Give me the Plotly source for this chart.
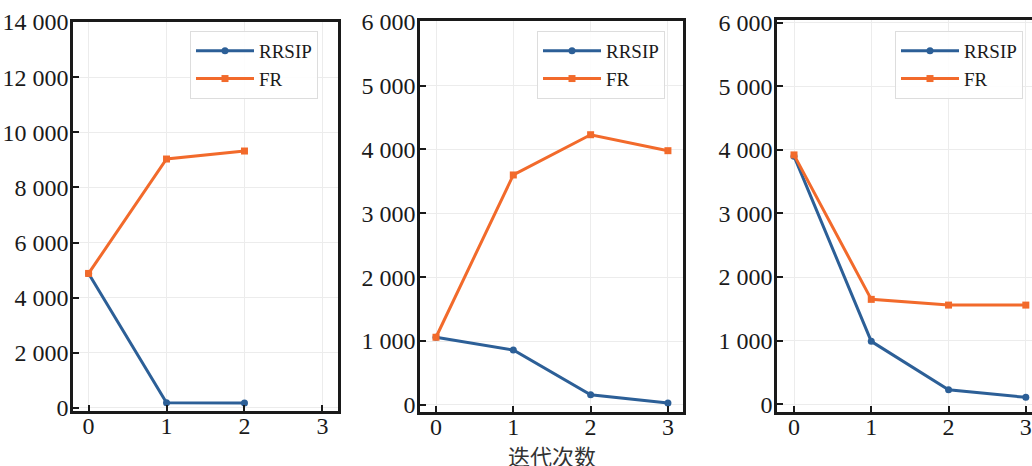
import plotly.graph_objects as go

iterations = [0, 1, 2, 3]

p1_rrsip = [4880, 190, 180]
p1_fr = [4880, 9030, 9320]

p2_rrsip = [1060, 860, 160, 30]
p2_fr = [1060, 3600, 4230, 3980]

p3_rrsip = [3900, 990, 230, 110]
p3_fr = [3920, 1650, 1560, 1560]

y_ticks_1 = [0, 2000, 4000, 6000, 8000, 10000, 12000, 14000]
y_ticks_23 = [0, 1000, 2000, 3000, 4000, 5000, 6000]

BLUE = "#2c5f97"
ORANGE = "#f26a2b"
INK = "#1a1a1a"
W, H = 1032, 466

fig = go.Figure()

panels = [
    (p1_rrsip, p1_fr, "x", "y", "legend", "p1"),
    (p2_rrsip, p2_fr, "x2", "y2", "legend2", "p2"),
    (p3_rrsip, p3_fr, "x3", "y3", "legend3", "p3"),
]
for rr, fr, xa, ya, lg, gid in panels:
    fig.add_trace(go.Scatter(
        x=iterations[:len(rr)], y=rr, name="RRSIP", mode="lines+markers",
        line=dict(color=BLUE, width=3), marker=dict(symbol="circle", size=7, color=BLUE),
        xaxis=xa, yaxis=ya, legend=lg, legendgroup=gid + "a"))
    fig.add_trace(go.Scatter(
        x=iterations[:len(fr)], y=fr, name="FR", mode="lines+markers",
        line=dict(color=ORANGE, width=3), marker=dict(symbol="square", size=7, color=ORANGE),
        xaxis=xa, yaxis=ya, legend=lg, legendgroup=gid + "b"))

def px_x(p):
    return p / W

def px_y(p):
    return 1 - p / H

font = dict(family="Liberation Serif, Times New Roman, serif", size=24, color=INK)

def xaxis(dom, rng, anchor):
    return dict(domain=[px_x(dom[0]), px_x(dom[1])], range=rng, anchor=anchor,
                tickvals=iterations, ticks="inside", ticklen=6, tickwidth=2, tickcolor=INK,
                showline=True, linecolor=INK, linewidth=2.5, mirror=True,
                showgrid=True, gridcolor="#ececec", gridwidth=1, zeroline=False,
                tickfont=font, fixedrange=True, automargin=False, ticklabelstandoff=-9)

def yaxis(dom, rng, anchor, tv, mirror=True):
    return dict(domain=[px_y(dom[1]), px_y(dom[0])], range=rng, anchor=anchor,
                tickvals=tv, ticks="inside", ticklen=6, tickwidth=2, tickcolor=INK,
                showline=True, linecolor=INK, linewidth=2.5, mirror=mirror,
                showgrid=True, gridcolor="#ececec", gridwidth=1, zeroline=False,
                tickformat=",d", separatethousands=True, tickfont=font, fixedrange=True,
                automargin=False, ticklabelstandoff=-3)

legend_style = dict(bgcolor="rgba(255,255,255,0.9)", bordercolor="#dddddd", borderwidth=1,
                    font=dict(family="Liberation Serif, Times New Roman, serif", size=19, color=INK),
                    xanchor="left", yanchor="top", itemwidth=58, tracegroupgap=0)

fig.update_layout(
    width=W, height=H,
    margin=dict(l=0, r=0, t=0, b=0, autoexpand=False),
    paper_bgcolor="white", plot_bgcolor="white",
    separators=". ",
    showlegend=True,
    xaxis=xaxis((73, 338), [-0.2, 3.2], "y"),
    yaxis=yaxis((22, 411), [-110, 14000], "x", y_ticks_1),
    xaxis2=xaxis((420, 683), [-0.207, 3.195], "y2"),
    yaxis2=yaxis((21, 412), [-110, 6010], "x2", y_ticks_23),
    xaxis3=xaxis((777, 1032), [-0.22, 3.08], "y3"),
    yaxis3=yaxis((20, 412), [-120, 6040], "x3", y_ticks_23, mirror=False),
    legend=dict(x=px_x(190), y=px_y(31), **legend_style),
    legend2=dict(x=px_x(537), y=px_y(31), **legend_style),
    legend3=dict(x=px_x(895), y=px_y(31), **legend_style),
    annotations=[dict(text="迭代次数", x=px_x(552), y=px_y(455), xref="paper", yref="paper",
                      showarrow=False, xanchor="center", yanchor="middle",
                      font=dict(family="Noto Sans CJK SC", size=22, color="#333"))],
)

fig.write_html("out.html")
